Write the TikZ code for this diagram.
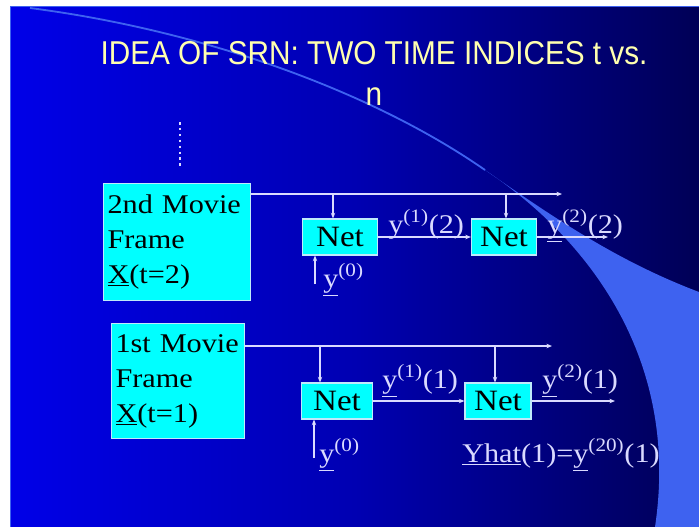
\documentclass[tikz,border=0pt]{standalone}
\usepackage{fontspec}
\setmainfont{Liberation Serif}[FakeStretch=1.12]
\newfontfamily\titlefont{Liberation Sans}[FakeStretch=0.9]
\usetikzlibrary{arrows.meta}
\definecolor{slideblue}{RGB}{0,0,255}
\definecolor{bgA}{RGB}{0,0,232}
\definecolor{bgB}{RGB}{0,0,178}
\definecolor{bgC}{RGB}{0,0,118}
\definecolor{bgD}{RGB}{0,0,68}
\definecolor{bgE}{RGB}{0,0,28}
\definecolor{bandblue}{RGB}{62,98,240}
\definecolor{boxcyan}{RGB}{0,255,255}
\definecolor{wirecol}{RGB}{218,218,255}
\definecolor{titlecol}{RGB}{255,255,175}
\pgfdeclarehorizontalshading{slidebg}{100bp}{color(0bp)=(slideblue); color(25bp)=(bgA); color(50bp)=(bgB); color(66bp)=(bgC); color(80bp)=(bgD); color(92bp)=(bgE); color(100bp)=(black)}
\tikzset{
  moviebox/.style={fill=boxcyan, draw=cyan!25!white, line width=0.8pt, anchor=north west, inner xsep=0.1cm, inner ysep=0pt, align=left, font=\fontsize{19.2}{24.9}\selectfont, text=black},
  netbox/.style={fill=boxcyan, draw=cyan!25!white, line width=0.8pt, minimum height=0.9cm, inner sep=0pt, font=\fontsize{21}{24.9}\selectfont, text=black},
  wire/.style={draw=wirecol, line width=0.9pt, -{Stealth[length=4pt,width=3.2pt]}},
  lbl/.style={anchor=base west, inner sep=0pt, text=wirecol, font=\fontsize{19.2}{24.9}\selectfont},
  titletext/.style={anchor=north, inner sep=0pt, align=center, text=titlecol, font=\titlefont\fontsize{23.5}{29}\selectfont},
}

\begin{document}
\begin{tikzpicture}[x=0.025cm, y=-0.025cm]
\useasboundingbox (0,0) rectangle (699,527);
\fill[white] (0,0) rectangle (699,527);
\shade[shading=slidebg] (10,6) rectangle (699,527);
\draw[bandblue, line width=1pt] (10.5,527) -- (10.5,6.5) -- (699,6.5);
\fill[bandblue] (485,170) .. controls (560,222) and (620,262) .. (699,292) -- (699,527) -- (655,527) .. controls (680,360) and (590,240) .. (485,170) -- cycle;
\draw[bandblue, line width=1.3pt] (30,8) .. controls (200,30) and (370,90) .. (485,170);
\node[titletext] (title) at (374,41) {IDEA OF SRN: TWO TIME INDICES t vs.\\ n};
\draw[wirecol, line width=1.8pt, dash pattern=on 1.8pt off 2.4pt] (180,122) -- (180,168);

\node[moviebox, minimum height=2.925cm, text width=3.475cm] (movie2) at (103,183) {2nd Movie\\ Frame\\ \underline{X}(t=2)};
\node[moviebox, minimum height=2.875cm, text width=3.125cm] (movie1) at (111,323) {1st Movie\\ Frame\\ \underline{X}(t=1)};

\node[netbox, minimum width=1.875cm] (net21) at (340,237) {Net};
\node[netbox, minimum width=1.625cm] (net22) at (504,237) {Net};
\node[netbox, minimum width=1.775cm] (net11) at (337,401) {Net};
\node[netbox, minimum width=1.65cm] (net12) at (498,401) {Net};

\coordinate (top2end) at (562,194);
\coordinate (br21) at (333,194);
\coordinate (br22) at (506,194);
\coordinate (in2) at (315,284);
\coordinate (out2) at (608,237);
\coordinate (top1end) at (552,346);
\coordinate (br11) at (320,346);
\coordinate (br12) at (495,346);
\coordinate (in1) at (314,458);
\coordinate (out1) at (615,401);

\draw[wire] (movie2.east |- top2end) -- (top2end);
\draw[wire] (br21) -- (br21 |- net21.north);
\draw[wire] (br22) -- (br22 |- net22.north);
\draw[wire] (in2) -- (in2 |- net21.south);
\draw[wire] (net21.east) -- (net22.west);
\draw[wire] (net22.east) -- (out2);

\draw[wire] (movie1.east |- top1end) -- (top1end);
\draw[wire] (br11) -- (br11 |- net11.north);
\draw[wire] (br12) -- (br12 |- net12.north);
\draw[wire] (in1) -- (in1 |- net11.south);
\draw[wire] (net11.east) -- (net12.west);
\draw[wire] (net12.east) -- (out1);

\node[lbl] (y0top) at (323,287) {\underline{y}\textsuperscript{(0)}};
\node[lbl] (y12) at (388,233) {y\textsuperscript{(1)}(2)};
\node[lbl] (y22) at (547,233) {\underline{y}\textsuperscript{(2)}(2)};
\node[lbl] (y0bot) at (319,462) {\underline{y}\textsuperscript{(0)}};
\node[lbl] (y11) at (382,388) {\underline{y}\textsuperscript{(1)}(1)};
\node[lbl] (y21) at (542,388) {\underline{y}\textsuperscript{(2)}(1)};
\node[lbl] (yhat) at (462,462) {\underline{Yhat}(1)=\underline{y}\textsuperscript{(20)}(1)};
\end{tikzpicture}
\end{document}
